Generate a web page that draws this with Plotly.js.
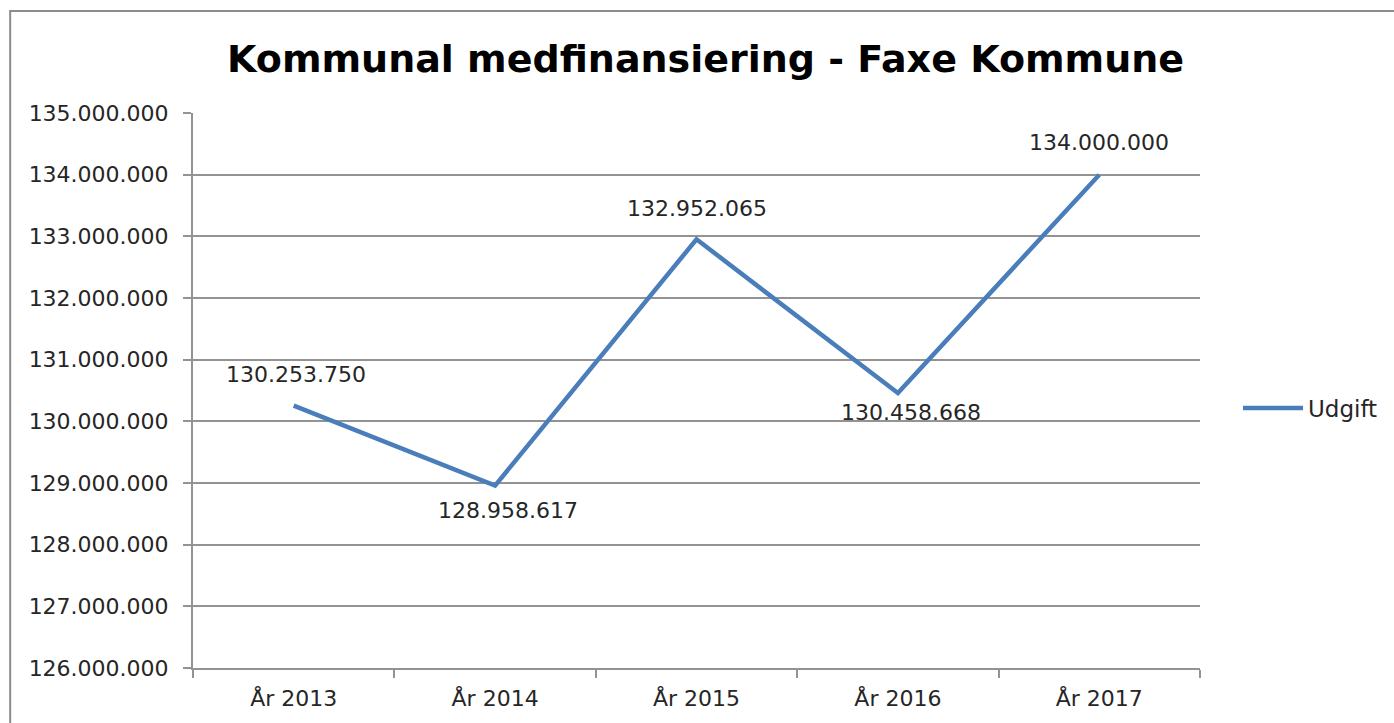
<!DOCTYPE html>
<html>
<head>
<meta charset="utf-8">
<script src="https://cdn.plot.ly/plotly-3.0.1.min.js"></script>
<style>html,body{margin:0;padding:0;background:#fff;}#chart{width:1394px;height:723px;}</style>
</head>
<body>
<div id="chart"></div>
<script>
const categories = ["År 2013", "År 2014", "År 2015", "År 2016", "År 2017"];
const udgift = [130253750, 128958617, 132952065, 130458668, 134000000];
const seriesName = "Udgift";
const chartTitle = "Kommunal medfinansiering - Faxe Kommune";
// label placement (pixel offsets from each point)
const labelDx = [2, 13, 0, 13, 0];
const labelDy = [31, -25, 31, -19, 32];

const FONT = "DejaVu Sans, sans-serif";
const TXT = "#262626";
const GRID = "#939393";

const trace = {
  x: categories,
  y: udgift,
  type: "scatter",
  mode: "lines",
  name: seriesName,
  line: {color: "#4a7ebb", width: 4.5},
  cliponaxis: false
};

const fmt = v => String(v).replace(/\B(?=(\d{3})+(?!\d))/g, ".");
const annotations = categories.map((c, i) => ({
  x: c, y: udgift[i], xref: "x", yref: "y",
  text: fmt(udgift[i]),
  showarrow: false,
  xanchor: "center", yanchor: "middle",
  xshift: labelDx[i], yshift: labelDy[i],
  font: {family: FONT, size: 22, color: TXT}
}));

const layout = {
  width: 1394, height: 723,
  margin: {l: 193, r: 193, t: 113, b: 55},
  paper_bgcolor: "#ffffff",
  plot_bgcolor: "#ffffff",
  separators: ",.",
  font: {family: FONT, color: TXT},
  title: {
    text: "<b>" + chartTitle + "</b>",
    font: {family: FONT, size: 38, color: "#000000"},
    x: 0.509, xref: "paper", xanchor: "center",
    y: 1 - 59 / 723, yref: "container", yanchor: "middle"
  },
  xaxis: {
    type: "category",
    range: [-0.5, 4.5],
    showline: true, linecolor: GRID, linewidth: 2,
    ticks: "outside", ticklen: 8, tickcolor: GRID, tickwidth: 2,
    tickson: "boundaries",
    showgrid: false,
    tickfont: {family: FONT, size: 22, color: TXT},
    ticklabelstandoff: 10,
    fixedrange: true
  },
  yaxis: {
    range: [126000000, 135000000],
    dtick: 1000000,
    tickformat: ",",
    showline: true, linecolor: GRID, linewidth: 2,
    ticks: "outside", ticklen: 8, tickcolor: GRID, tickwidth: 2,
    showgrid: true, gridcolor: GRID, gridwidth: 2,
    zeroline: false,
    tickfont: {family: FONT, size: 22, color: TXT},
    ticklabelstandoff: 10,
    fixedrange: true
  },
  showlegend: true,
  legend: {
    x: (1238 - 193) / 1008, xanchor: "left",
    y: (668 - 408) / 555, yanchor: "middle",
    font: {family: FONT, size: 23, color: TXT},
    bgcolor: "rgba(0,0,0,0)",
    itemwidth: 60
  },
  annotations: annotations,
  shapes: [{
    type: "rect", xref: "paper", yref: "paper",
    x0: (10 - 193) / 1008, x1: (1500 - 193) / 1008,
    y0: (668 - 800) / 555, y1: (668 - 11) / 555,
    line: {color: "#8c8c8c", width: 2}, fillcolor: "rgba(0,0,0,0)",
    layer: "below"
  }]
};

Plotly.newPlot("chart", [trace], layout, {displayModeBar: false, staticPlot: true});
</script>
</body>
</html>
